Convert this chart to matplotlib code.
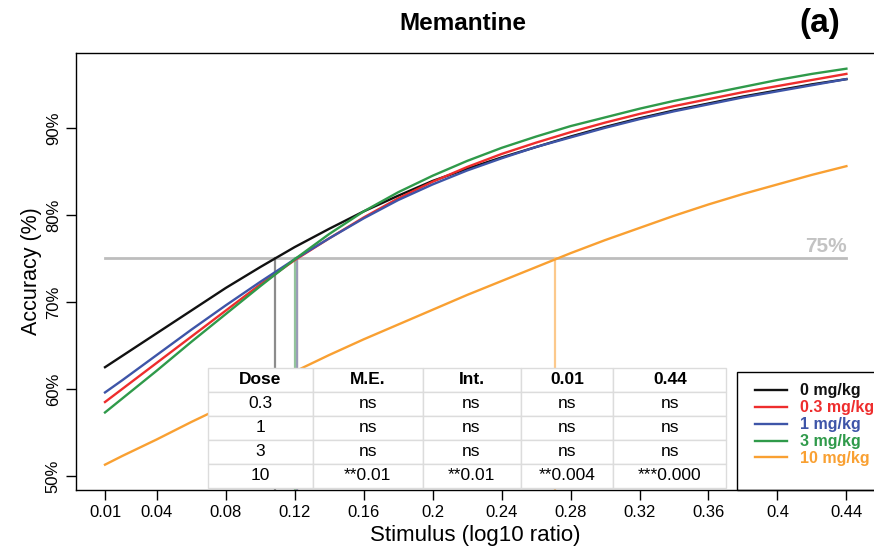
import numpy as np
import matplotlib
matplotlib.use("Agg")
import matplotlib.pyplot as plt
from matplotlib.patches import Rectangle
from matplotlib.ticker import PercentFormatter

plt.rcParams['font.family'] = ['Liberation Sans', 'DejaVu Sans']

# stimulus (log10 ratio) and accuracy (%)
stim = [0.01, 0.02, 0.04, 0.06, 0.08, 0.10, 0.12, 0.14, 0.16, 0.18, 0.20, 0.22,
        0.24, 0.26, 0.28, 0.30, 0.32, 0.34, 0.36, 0.38, 0.40, 0.42, 0.44]
acc_0 = [62.5, 63.8, 66.4, 69.0, 71.6, 74.0, 76.3, 78.4, 80.4, 82.2, 83.9, 85.3,
         86.6, 87.8, 89.0, 90.1, 91.1, 92.0, 92.8, 93.6, 94.3, 95.0, 95.6]
acc_03 = [58.5, 60.0, 63.0, 66.0, 69.0, 72.0, 74.8, 77.3, 79.7, 81.9, 83.8, 85.5,
          87.0, 88.3, 89.5, 90.6, 91.6, 92.5, 93.3, 94.1, 94.8, 95.5, 96.2]
acc_1 = [59.6, 61.0, 63.9, 66.8, 69.6, 72.3, 74.9, 77.3, 79.6, 81.7, 83.5, 85.1,
         86.5, 87.8, 88.9, 90.0, 91.0, 91.9, 92.7, 93.5, 94.2, 94.9, 95.6]
acc_3 = [57.3, 58.9, 62.1, 65.4, 68.6, 71.8, 74.9, 77.8, 80.4, 82.6, 84.5, 86.2,
         87.7, 89.0, 90.2, 91.2, 92.2, 93.1, 93.9, 94.7, 95.5, 96.2, 96.8]
acc_10 = [51.3, 52.3, 54.2, 56.2, 58.1, 60.0, 62.0, 63.9, 65.7, 67.4, 69.1, 70.8,
          72.4, 74.0, 75.6, 77.1, 78.5, 79.9, 81.2, 82.4, 83.5, 84.6, 85.6]

doses = ['0 mg/kg', '0.3 mg/kg', '1 mg/kg', '3 mg/kg', '10 mg/kg']
colors = ['#111111', '#ee2d2d', '#3e55a8', '#2f9a4a', '#f9a032']
drop_colors = ['#8c8c8c', '#c9a0a0', '#9a9ab8', '#93c39c', '#fcc98c']
threshold = 75
x75 = [0.1086, 0.1212, 0.1216, 0.1202, 0.271]  # where each curve hits 75%

table_header = ['Dose', 'M.E.', 'Int.', '0.01', '0.44']
table_rows = [
    ['0.3', 'ns', 'ns', 'ns', 'ns'],
    ['1', 'ns', 'ns', 'ns', 'ns'],
    ['3', 'ns', 'ns', 'ns', 'ns'],
    ['10', '**0.01', '**0.01', '**0.004', '***0.000'],
]
xticks = [0.01, 0.04, 0.08, 0.12, 0.16, 0.2, 0.24, 0.28, 0.32, 0.36, 0.4, 0.44]
yticks = [50, 60, 70, 80, 90]

fig = plt.figure(figsize=(8.74, 5.58), dpi=100)
ax = fig.add_axes([0.087, 0.122, 0.913, 0.783])

all_acc = [acc_0, acc_03, acc_1, acc_3, acc_10]

# 75% reference line and drop lines
ax.plot([stim[0], stim[-1]], [threshold, threshold], color='#bdbdbd', lw=2, zorder=1)
ax.text(stim[-1], threshold + 0.3, '75%', color='#c3c3c3', fontsize=15,
        fontweight='bold', ha='right', va='bottom')
for xc, dc in zip(x75, drop_colors):
    ax.plot([xc, xc], [40, threshold], color=dc, lw=1.6, zorder=1)

for acc, col, lab in zip(all_acc, colors, doses):
    ax.plot(stim, acc, color=col, lw=1.7, label=lab, zorder=2)

ax.set_xlim(-0.0068, 0.456)
ax.set_ylim(48.4, 98.6)
ax.set_xticks(xticks)
ax.set_xticklabels([f'{t:g}' for t in xticks], fontsize=12)
ax.set_yticks(yticks)
ax.yaxis.set_major_formatter(PercentFormatter(100, decimals=0))
for lbl in ax.get_yticklabels():
    lbl.set_rotation(90)
    lbl.set_va('center')
    lbl.set_fontsize(12)
ax.tick_params(direction='out', length=7, width=1)
ax.tick_params(axis='y', pad=4)
ax.spines['right'].set_visible(False)
for s in ['left', 'bottom', 'top']:
    ax.spines[s].set_linewidth(1)
ax.set_xlabel('Stimulus (log10 ratio)', fontsize=16, labelpad=4)
ax.set_ylabel('Accuracy (%)', fontsize=15.5, labelpad=3)

fig.text(0.53, 0.958, 'Memantine', fontsize=17.5, fontweight='bold', ha='center', va='center')
fig.text(0.938, 0.958, '(a)', fontsize=24, fontweight='bold', ha='center', va='center')

# stats table
tbl = ax.table(cellText=table_rows, colLabels=table_header, cellLoc='center',
               colWidths=[105, 110, 98, 93, 113], bbox=[0.165, 0.005, 0.650, 0.275], zorder=5)
tbl.auto_set_font_size(False)
tbl.set_fontsize(12.5)
for (r, c), cell in tbl.get_celld().items():
    cell.set_edgecolor('#dcdcdc')
    cell.set_linewidth(1)
    cell.set_facecolor('white')
    if r == 0:
        cell.get_text().set_fontweight('bold')

# legend with a square frame running off the right edge
fig.patches.append(Rectangle((737 / 874, 1 - 490 / 558), 0.2, (490 - 372) / 558,
                             transform=fig.transFigure, fill=False, edgecolor='black', lw=1))
leg = fig.legend(loc='upper left', bbox_to_anchor=(741 / 874, 1 - 369 / 558), frameon=False,
                 fontsize=11.5, handlelength=2.0, labelspacing=0.12, handletextpad=0.8,
                 labelcolor=colors)
for t in leg.get_texts():
    t.set_fontweight('bold')

fig.savefig('out.png', dpi=100)
